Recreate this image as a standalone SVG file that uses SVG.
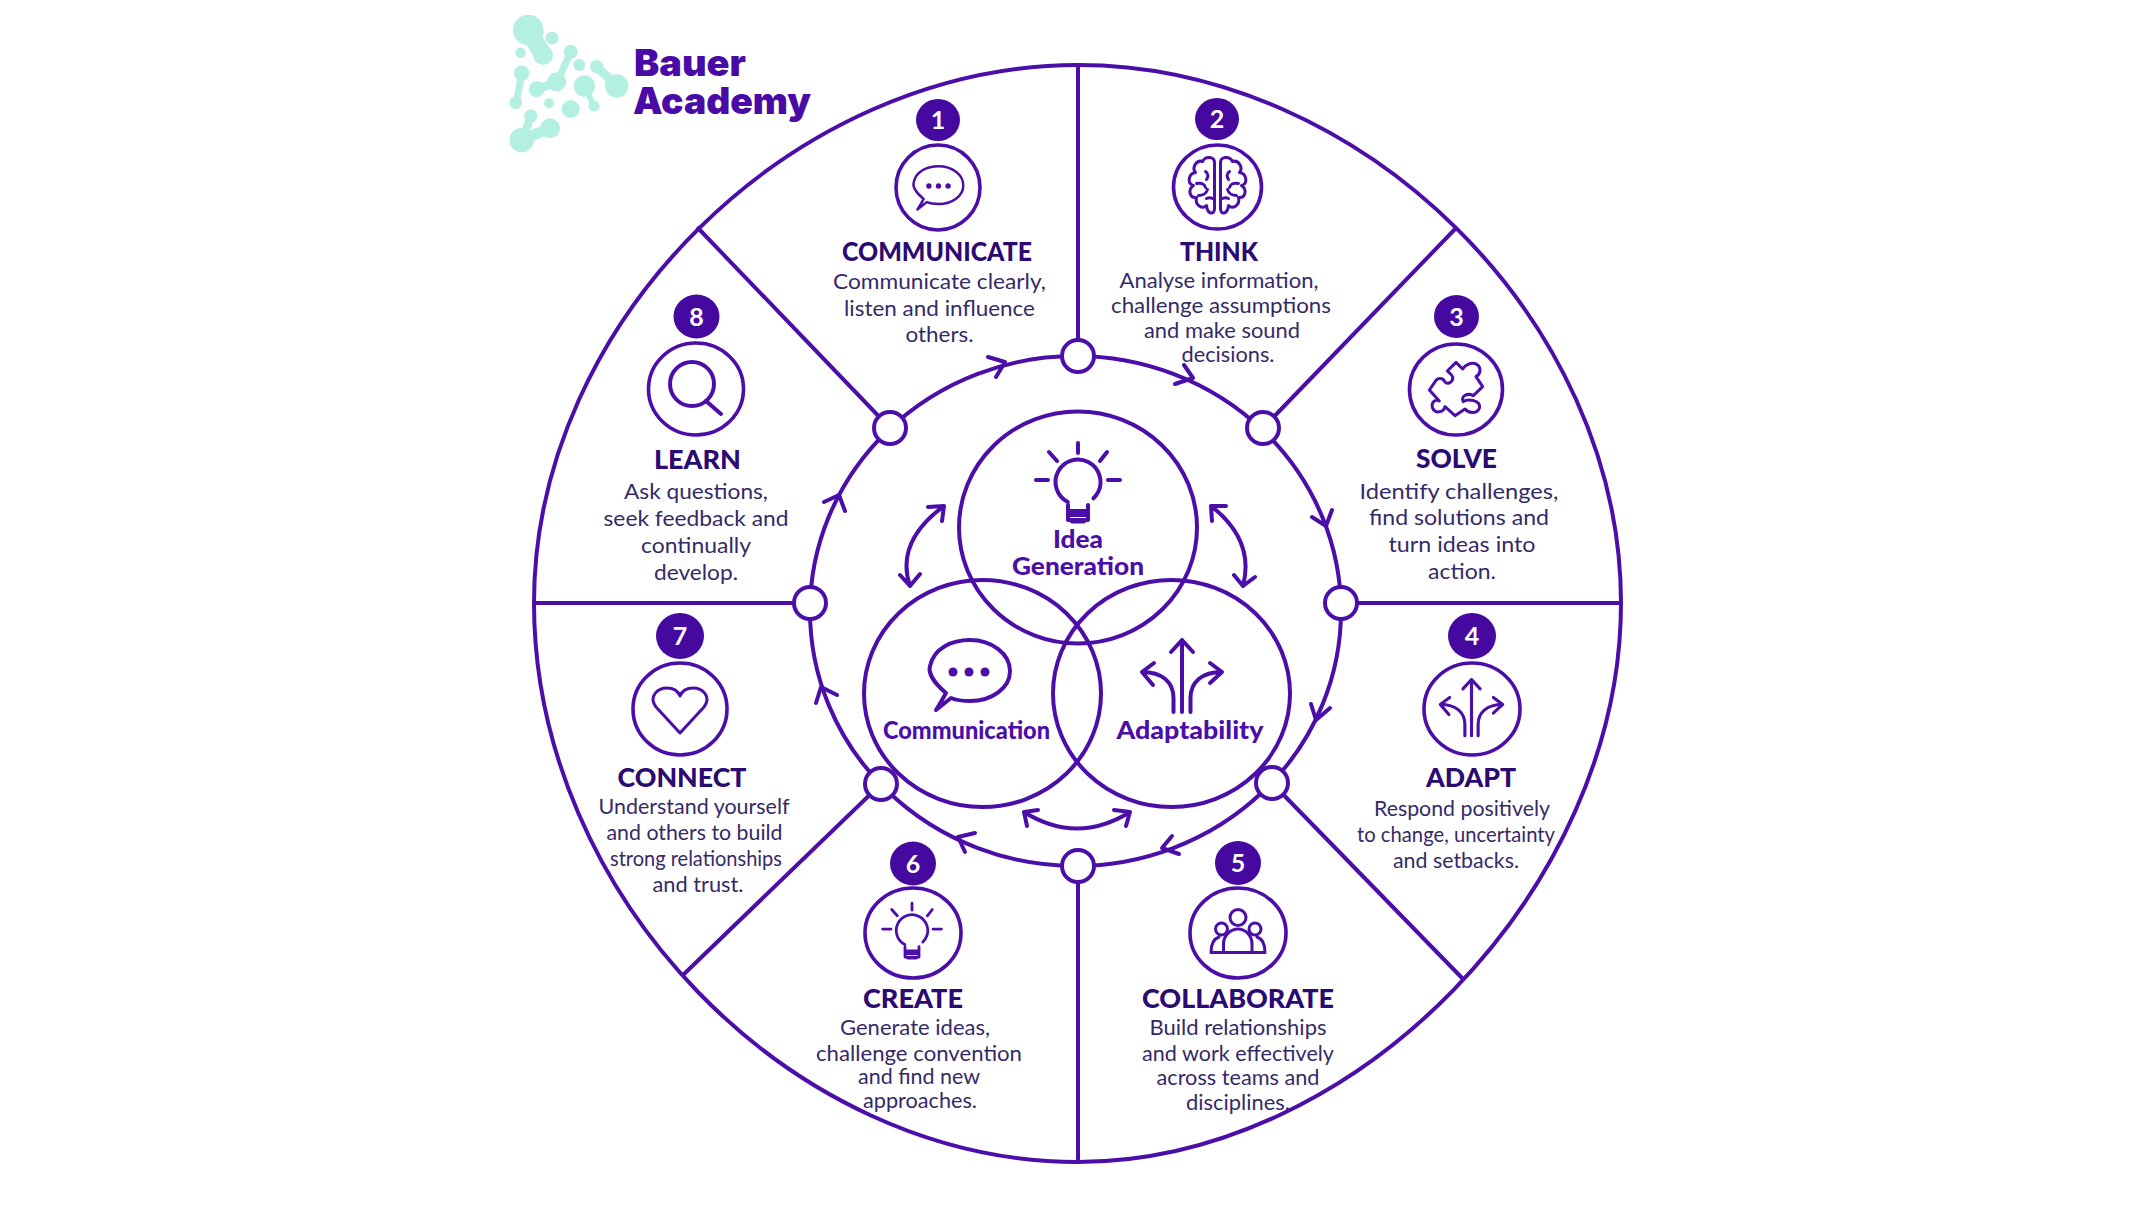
<svg xmlns="http://www.w3.org/2000/svg" width="2145" height="1221" viewBox="0 0 2145 1221">
<style>
.l{fill:none;stroke:#4b0ea8;stroke-width:4;stroke-linecap:round;stroke-linejoin:round}
.r{fill:none;stroke:#4b0ea8;stroke-width:4}
.n{fill:#fff;stroke:#4b0ea8;stroke-width:4}
.ic{fill:none;stroke:#4b0ea8;stroke-width:3.6}
.i{fill:none;stroke:#4b0ea8;stroke-width:3;stroke-linecap:round;stroke-linejoin:round}
.b{fill:#46099f}
.bt{font:700 25px Lato,"Liberation Sans",sans-serif;fill:#fff;text-anchor:middle}
.t{font:900 27px Lato,"Liberation Sans",sans-serif;fill:#2b0a72;text-anchor:middle}
.d{font:400 22px Lato,"Liberation Sans",sans-serif;fill:#352a68;text-anchor:middle}
.v{font:900 25.5px Lato,"Liberation Sans",sans-serif;fill:#4b0ea8;text-anchor:middle}
.g{font:900 37px Inter,Lato,"Liberation Sans",sans-serif;fill:#4a0aa5}
.m{fill:#b4f0e2}
.ms{fill:none;stroke:#b4f0e2;stroke-linecap:round}
</style>
<defs>
<g id="bulb" class="l"><circle cx="0" cy="0" r="22.5" stroke-dasharray="113 28" transform="rotate(117)"/><path d="M-10 23V29H10V23M-10 29V38H10V29M-10 33H10M-6 39.500H6M0-39V-29M22-21L29-30M-21-21L-29-30M-42-2H-30M30-2H42"/></g>
<g id="bubble" class="l"><path d="M-24 21C-36 11-42 1-40-6-36-24-18-32 0-32 22-32 40-18 40-1 40 16 22 29 0 29-7 29-14 28-19 26L-34 38C-30 32-27 26-24 21Z"/></g>
<g id="dots"><circle cx="-16" cy="0" r="4.500" fill="#4b0ea8"/><circle cx="0" cy="0" r="4.500" fill="#4b0ea8"/><circle cx="16" cy="0" r="4.500" fill="#4b0ea8"/></g>
<g id="adapt" class="l"><path d="M0 72V0M-11 12L0 0 11 12M-8.500 72V58C-8.500 42-20 32-40 32M8.500 72V58C8.500 42 20 32 40 32M-28 23L-40 32-29 45M28 23L40 32 28 43"/></g>
<g id="brain-half" class="i"><path d="M-3-24C-3-30-12-31-15-25-21-27-26-19-22-14-29-13-31-3-24-1-30 3-28 12-21 11-23 19-15 23-11 19-10 28-3 29-3 22Z"/><path d="M-12-15C-9-13-9-10-11-7M-21-3C-17-4-13-3-12 1M-19 9C-15 9-11 7-10 3M-11 12C-9 11-7 11-5 12"/></g>
</defs>
<rect width="2145" height="1221" fill="#fff"/>
<g id="logo">
<circle class="m" cx="528.300" cy="30" r="15.300"/><circle class="m" cx="543" cy="55" r="10"/><circle class="m" cx="552" cy="38" r="6.500"/><circle class="m" cx="520.700" cy="52.700" r="5.300"/><circle class="m" cx="570.700" cy="51.700" r="7"/><circle class="m" cx="556.700" cy="81.700" r="9.500"/><circle class="m" cx="536.700" cy="89.300" r="8"/><circle class="m" cx="579.300" cy="65" r="6"/><circle class="m" cx="596.700" cy="66.700" r="6.700"/><circle class="m" cx="616.700" cy="86" r="11.700"/><circle class="m" cx="521.700" cy="73.300" r="7.700"/><circle class="m" cx="515.700" cy="102.700" r="6.300"/><circle class="m" cx="584.300" cy="86" r="10.700"/><circle class="m" cx="594" cy="106" r="5.700"/><circle class="m" cx="549" cy="103.300" r="5"/><circle class="m" cx="570.700" cy="109" r="9"/><circle class="m" cx="530.700" cy="116" r="6.700"/><circle class="m" cx="550" cy="128.300" r="10"/><circle class="m" cx="521.700" cy="140" r="12.300"/>
<path class="ms" stroke-width="18" d="M530 33L543 55"/>
<path class="ms" stroke-width="7" d="M570.700 52L557 82M522 73L516 103"/>
<path class="ms" stroke-width="9" d="M557 82L537 89M597 67L617 86"/>
<path class="ms" stroke-width="6" d="M584 86L594 106"/>
<path class="ms" stroke-width="8" d="M531 116L522 140"/>
<path class="ms" stroke-width="11" d="M550 128L522 140"/>
<text class="g" x="634" y="76" textLength="112" lengthAdjust="spacingAndGlyphs">Bauer</text><text class="g" x="633" y="114" textLength="178" lengthAdjust="spacingAndGlyphs">Academy</text>
</g>
<g id="connectors">
<path class="r" d="M1078 65C1362 65 1621 320 1621 603C1621 890 1355 1162 1078 1162C790 1162 534 895 534 603C534 320 794 65 1078 65Z"/>
<ellipse class="r" cx="1075.500" cy="611" rx="265.500" ry="255"/>
<path class="r" d="M1078 65V356M1457 227L1263 428M1341 603H1621M1272 783L1463 979M1078 866V1162M881 784L683 975M810 603H534M890 428L697 227"/>
<g id="ring-arrows">
<path class="l" d="M988 357L1005 362 996 377"/>
<path class="l" d="M1175 384L1193 378 1184 365"/>
<path class="l" d="M1312 517L1326 526 1332 510"/>
<path class="l" d="M1311 704L1316 720 1330 708"/>
<path class="l" d="M1172 836L1162 848 1179 854"/>
<path class="l" d="M975 833L958 837 965 852"/>
<path class="l" d="M816 703L821 687 837 695"/>
<path class="l" d="M824 502L839 495 845 511"/>
</g>
<g id="venn-arrows">
<path class="l" d="M944 506Q895 542 910 586M928 507L944 506 942 521M900 575L910 586 920 574"/>
<path class="l" d="M1211 506Q1255 540 1243 586M1226 506L1211 506 1212 521M1234 575L1243 586 1255 577"/>
<path class="l" d="M1024 812Q1077 845 1130 812M1038 810L1024 812 1027 826M1114 810L1130 812 1126 826"/>
</g>
<g id="ring-nodes">
<circle class="n" cx="1078" cy="356" r="16"/><circle class="n" cx="1263" cy="428" r="16"/><circle class="n" cx="1341" cy="603" r="16"/><circle class="n" cx="1272" cy="783" r="16"/><circle class="n" cx="1078" cy="866" r="16"/><circle class="n" cx="881" cy="784" r="16"/><circle class="n" cx="810" cy="603" r="16"/><circle class="n" cx="890" cy="428" r="16"/>
</g>
</g>
<g id="venn-idea"><ellipse class="r" cx="1078" cy="527.500" rx="119" ry="116"/><use href="#bulb" transform="translate(1078 482)"/><text class="v" x="1078" y="548" textLength="50" lengthAdjust="spacingAndGlyphs">Idea</text><text class="v" x="1078" y="575" textLength="132" lengthAdjust="spacingAndGlyphs">Generation</text></g>
<g id="venn-communication"><ellipse class="r" cx="982.500" cy="693.500" rx="118.500" ry="113.500"/><use href="#bubble" transform="translate(970 672)"/><use href="#dots" transform="translate(969 672)"/><text class="v" x="966.500" y="739" textLength="167" lengthAdjust="spacingAndGlyphs">Communication</text></g>
<g id="venn-adaptability"><ellipse class="r" cx="1171.500" cy="693.500" rx="118.500" ry="113.500"/><use href="#adapt" transform="translate(1182 640)"/><text class="v" x="1190" y="739" textLength="147" lengthAdjust="spacingAndGlyphs">Adaptability</text></g>
<g id="node-1">
<ellipse class="b" cx="938" cy="120" rx="22" ry="21"/><text class="bt" x="938" y="129">1</text>
<ellipse class="ic" cx="938" cy="187.500" rx="42" ry="42.500"/>
<use href="#bubble" transform="translate(938.500 186) scale(.62)"/><use href="#dots" transform="translate(938.500 186) scale(.6)"/>
<text class="t" x="937" y="261" textLength="190" lengthAdjust="spacingAndGlyphs">COMMUNICATE</text>
<text class="d" x="939.500" y="289" textLength="213" lengthAdjust="spacingAndGlyphs">Communicate clearly,</text><text class="d" x="939.500" y="316" textLength="191" lengthAdjust="spacingAndGlyphs">listen and influence</text><text class="d" x="939.500" y="342" textLength="68" lengthAdjust="spacingAndGlyphs">others.</text>
</g>
<g id="node-2">
<ellipse class="b" cx="1217" cy="119" rx="22" ry="21"/><text class="bt" x="1217" y="128">2</text>
<ellipse class="ic" cx="1217.500" cy="187" rx="44" ry="42"/>
<use href="#brain-half" transform="translate(1217.500 186.500)"/><use href="#brain-half" transform="translate(1217.500 186.500) scale(-1 1)"/>
<text class="t" x="1219" y="261" textLength="78" lengthAdjust="spacingAndGlyphs">THINK</text>
<text class="d" x="1219" y="288" textLength="199" lengthAdjust="spacingAndGlyphs">Analyse information,</text><text class="d" x="1221" y="313" textLength="220" lengthAdjust="spacingAndGlyphs">challenge assumptions</text><text class="d" x="1222" y="338" textLength="156" lengthAdjust="spacingAndGlyphs">and make sound</text><text class="d" x="1228" y="362" textLength="93" lengthAdjust="spacingAndGlyphs">decisions.</text>
</g>
<g id="node-3">
<ellipse class="b" cx="1456.500" cy="316.500" rx="22.500" ry="21.500"/><text class="bt" x="1456.500" y="325.500">3</text>
<ellipse class="ic" cx="1456" cy="389.500" rx="46.500" ry="45.500"/>
<path class="i" style="stroke-width:9" transform="translate(1410 345) scale(.3333)" d="M112 78L138 52 158 72C165 60 185 50 200 58 215 68 212 88 198 95L218 125 190 152C172 142 150 155 160 170 172 160 215 165 208 190 200 208 175 205 165 192L135 212 105 185C100 205 75 205 68 190 62 172 75 162 88 168L58 135 78 106C85 98 100 98 104 110 112 120 130 112 128 96 126 88 118 84 112 78Z"/>
<text class="t" x="1456.500" y="468" textLength="81" lengthAdjust="spacingAndGlyphs">SOLVE</text>
<text class="d" x="1459" y="499" textLength="199" lengthAdjust="spacingAndGlyphs">Identify challenges,</text><text class="d" x="1459" y="525" textLength="180" lengthAdjust="spacingAndGlyphs">find solutions and</text><text class="d" x="1462" y="552" textLength="147" lengthAdjust="spacingAndGlyphs">turn ideas into</text><text class="d" x="1462" y="579" textLength="68" lengthAdjust="spacingAndGlyphs">action.</text>
</g>
<g id="node-4">
<ellipse class="b" cx="1472" cy="636" rx="24" ry="23"/><text class="bt" x="1472" y="645">4</text>
<ellipse class="ic" cx="1472" cy="709" rx="48" ry="46"/>
<use href="#adapt" transform="translate(1471.500 679.500) scale(.78)"/>
<text class="t" x="1471" y="787" textLength="90" lengthAdjust="spacingAndGlyphs">ADAPT</text>
<text class="d" x="1462" y="816" textLength="176" lengthAdjust="spacingAndGlyphs">Respond positively</text><text class="d" x="1456" y="842" textLength="198" lengthAdjust="spacingAndGlyphs">to change, uncertainty</text><text class="d" x="1456" y="867.500" textLength="126" lengthAdjust="spacingAndGlyphs">and setbacks.</text>
</g>
<g id="node-5">
<ellipse class="b" cx="1238" cy="863" rx="23" ry="22"/><text class="bt" x="1238" y="872">5</text>
<ellipse class="ic" cx="1238" cy="933" rx="48" ry="45"/>
<g class="i"><circle cx="1238" cy="917.500" r="8"/><circle cx="1221.500" cy="929" r="6"/><circle cx="1255" cy="929" r="6"/><path d="M1211 952.500H1265M1223.500 952.500V944C1223.500 935 1231 929 1238 929 1245 929 1252 935 1252 944V952.500M1211 952.500C1211 944 1213 939 1219 937M1265 952.500C1265 944 1263 939 1257 937"/></g>
<text class="t" x="1238" y="1008" textLength="192" lengthAdjust="spacingAndGlyphs">COLLABORATE</text>
<text class="d" x="1238" y="1035" textLength="177" lengthAdjust="spacingAndGlyphs">Build relationships</text><text class="d" x="1238" y="1060.500" textLength="192" lengthAdjust="spacingAndGlyphs">and work effectively</text><text class="d" x="1238" y="1085" textLength="163" lengthAdjust="spacingAndGlyphs">across teams and</text><text class="d" x="1238" y="1110" textLength="104" lengthAdjust="spacingAndGlyphs">disciplines.</text>
</g>
<g id="node-6">
<ellipse class="b" cx="913" cy="863.500" rx="23" ry="22"/><text class="bt" x="913" y="872.500">6</text>
<ellipse class="ic" cx="913" cy="933" rx="48" ry="45"/>
<use href="#bulb" transform="translate(912 930.500) scale(.7)"/>
<text class="t" x="913" y="1008" textLength="100" lengthAdjust="spacingAndGlyphs">CREATE</text>
<text class="d" x="915" y="1035" textLength="150" lengthAdjust="spacingAndGlyphs">Generate ideas,</text><text class="d" x="919" y="1060.500" textLength="206" lengthAdjust="spacingAndGlyphs">challenge convention</text><text class="d" x="919" y="1084" textLength="122" lengthAdjust="spacingAndGlyphs">and find new</text><text class="d" x="920" y="1107.500" textLength="114" lengthAdjust="spacingAndGlyphs">approaches.</text>
</g>
<g id="node-7">
<ellipse class="b" cx="680" cy="636" rx="24" ry="23"/><text class="bt" x="680" y="645">7</text>
<ellipse class="ic" cx="680" cy="709" rx="47" ry="46"/>
<path class="i" d="M680 733L656 707C648 696 658 688 667 688 673 688 678 691 680 696 682 691 687 688 693 688 702 688 712 696 704 707Z"/>
<text class="t" x="682" y="787" textLength="129" lengthAdjust="spacingAndGlyphs">CONNECT</text>
<text class="d" x="694" y="814" textLength="191" lengthAdjust="spacingAndGlyphs">Understand yourself</text><text class="d" x="694.500" y="840" textLength="176" lengthAdjust="spacingAndGlyphs">and others to build</text><text class="d" x="696" y="865.500" textLength="172" lengthAdjust="spacingAndGlyphs">strong relationships</text><text class="d" x="698" y="891.500" textLength="91" lengthAdjust="spacingAndGlyphs">and trust.</text>
</g>
<g id="node-8">
<ellipse class="b" cx="696.500" cy="316.500" rx="23" ry="22"/><text class="bt" x="696.500" y="325.500">8</text>
<ellipse class="ic" cx="696" cy="389" rx="47.500" ry="46"/>
<circle class="l" cx="692" cy="384" r="22"/><path class="l" d="M706 401L721 414"/>
<text class="t" x="697.500" y="469" textLength="87" lengthAdjust="spacingAndGlyphs">LEARN</text>
<text class="d" x="696" y="499" textLength="144" lengthAdjust="spacingAndGlyphs">Ask questions,</text><text class="d" x="696" y="526" textLength="185" lengthAdjust="spacingAndGlyphs">seek feedback and</text><text class="d" x="696" y="553" textLength="110" lengthAdjust="spacingAndGlyphs">continually</text><text class="d" x="696" y="580" textLength="84" lengthAdjust="spacingAndGlyphs">develop.</text>
</g>
</svg>
